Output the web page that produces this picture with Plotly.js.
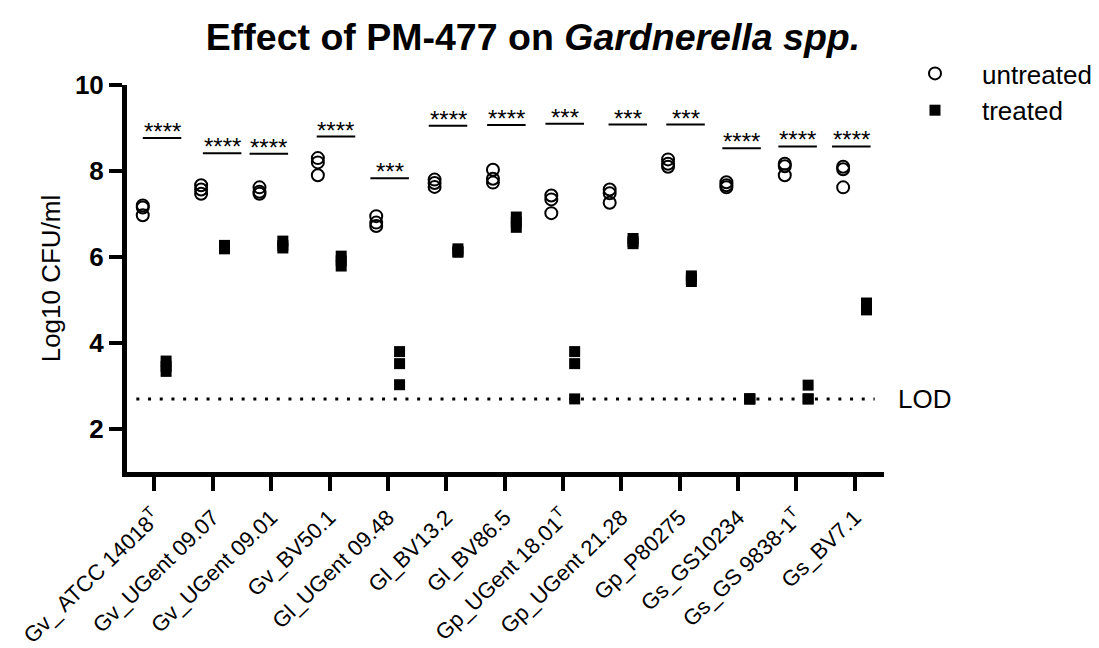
<!DOCTYPE html>
<html>
<head>
<meta charset="utf-8">
<script src="https://cdn.plot.ly/plotly-3.0.1.min.js"></script>
<style>html,body{margin:0;padding:0;background:#fff;}#chart{width:1099px;height:648px;}</style>
</head>
<body>
<div id="chart"></div>
<script>
// ---------- data ----------
const strains = [
  "Gv_ ATCC 14018<sup>T</sup>", "Gv_UGent 09.07", "Gv_UGent 09.01", "Gv_BV50.1",
  "Gl_UGent 09.48", "Gl_BV13.2", "Gl_BV86.5", "Gp_UGent 18.01<sup>T</sup>",
  "Gp_UGent 21.28", "Gp_P80275", "Gs_GS10234", "Gs_GS 9838-1<sup>T</sup>", "Gs_BV7.1"
];
const untreated = [
  [7.20, 7.15, 6.97], [7.67, 7.57, 7.47], [7.62, 7.52, 7.47], [8.30, 8.20, 7.90],
  [6.95, 6.80, 6.72], [7.80, 7.72, 7.63], [8.03, 7.82, 7.73], [7.43, 7.34, 7.02],
  [7.57, 7.48, 7.26], [8.27, 8.17, 8.10], [7.74, 7.67, 7.62], [8.17, 8.11, 7.90],
  [8.10, 8.04, 7.62]
];
const treated = [
  [3.58, 3.46, 3.34], [6.27, 6.21, 6.19], [6.37, 6.27, 6.21], [6.02, 5.91, 5.79],
  [3.80, 3.52, 3.03], [6.19, 6.13, 6.11], [6.93, 6.81, 6.69], [3.80, 3.52, 2.70],
  [6.43, 6.36, 6.31], [5.56, 5.49, 5.43], [2.70, 2.70, 2.70], [3.02, 2.70, 2.70],
  [4.93, 4.86, 4.77]
];
const significance = ["****", "****", "****", "****", "***", "****", "****", "***", "***", "***", "****", "****", "****"];
const sigLevel = [8.77, 8.41, 8.40, 8.80, 7.83, 9.05, 9.07, 9.10, 9.08, 9.08, 8.53, 8.57, 8.57];
const LOD = 2.7;
const yTicks = [2, 4, 6, 8, 10];

// ---------- layout helpers (positions / styles) ----------
const barShift = [0.13, 0.16, -0.04, 0.11, 0.03, 0.03, 0.03, 0.03, 0.11, 0.10, 0.06, 0.02, -0.06];
const barHalf = 0.33;
const dodge = 0.2;
const FONT = "Liberation Sans, Arial, Helvetica, sans-serif";

const ux = [], uy = [], tx = [], ty = [];
strains.forEach((s, i) => {
  untreated[i].forEach(v => { ux.push(i - dodge); uy.push(v); });
  treated[i].forEach(v => { tx.push(i + dodge); ty.push(v); });
});

const traces = [
  {
    type: "scatter", mode: "markers", name: "untreated", x: ux, y: uy,
    marker: { symbol: "circle-open", size: 12, color: "#000", line: { width: 2, color: "#000" } },
    cliponaxis: false
  },
  {
    type: "scatter", mode: "markers", name: "treated", x: tx, y: ty,
    marker: { symbol: "square", size: 11, color: "#000", line: { width: 0 } },
    cliponaxis: false
  }
];

const shapes = [];
const annotations = [];
strains.forEach((s, i) => {
  const c = i + barShift[i];
  shapes.push({
    type: "line", xref: "x", yref: "y",
    x0: c - barHalf, x1: c + barHalf, y0: sigLevel[i], y1: sigLevel[i],
    line: { color: "#000", width: 2 }
  });
  annotations.push({
    xref: "x", yref: "y", x: c, y: sigLevel[i], text: significance[i],
    showarrow: false, yanchor: "bottom", yshift: -9,
    font: { family: FONT, size: 24, color: "#000" }
  });
});
shapes.push({
  type: "line", xref: "x", yref: "y", x0: -0.31, x1: 12.34, y0: LOD, y1: LOD,
  line: { color: "#000", width: 3, dash: "3px,8.7px" }
});
annotations.push({
  xref: "paper", yref: "y", x: 1.0165, y: LOD, xanchor: "left", yanchor: "middle",
  text: "LOD", showarrow: false, font: { family: FONT, size: 26, color: "#000" }
});

const layout = {
  width: 1099, height: 648,
  paper_bgcolor: "#fff", plot_bgcolor: "#fff",
  margin: { l: 127, r: 215, t: 85, b: 176 },
  font: { family: FONT, color: "#000" },
  title: {
    text: "<b>Effect of PM-477 on <i>Gardnerella spp.</i></b>",
    font: { family: FONT, size: 37.5, color: "#000" },
    xref: "container", x: 0.485, xanchor: "center",
    yref: "container", y: 0.943, yanchor: "middle"
  },
  xaxis: {
    range: [-0.47, 12.5],
    tickmode: "array", tickvals: strains.map((s, i) => i), ticktext: strains,
    tickangle: -44, tickfont: { family: FONT, size: 22, color: "#000" },
    ticklabelstandoff: 5,
    ticks: "outside", ticklen: 14, tickwidth: 4, tickcolor: "#000",
    showline: true, linewidth: 5, linecolor: "#000",
    showgrid: false, zeroline: false
  },
  yaxis: {
    range: [1, 10],
    tickmode: "array", tickvals: yTicks, ticktext: yTicks.map(String),
    tickfont: { family: FONT, size: 26, color: "#000", weight: "bold" },
    ticks: "outside", ticklen: 13, tickwidth: 4, tickcolor: "#000",
    showline: true, linewidth: 5, linecolor: "#000",
    showgrid: false, zeroline: false,
    title: { text: "Log10 CFU/ml", font: { family: FONT, size: 26, color: "#000" }, standoff: 8 }
  },
  showlegend: true,
  legend: {
    xref: "container", yref: "container",
    x: 0.808, y: 1 - 50 / 648, xanchor: "left", yanchor: "top",
    itemwidth: 84, font: { family: FONT, size: 26, color: "#000" },
    bgcolor: "rgba(0,0,0,0)", borderwidth: 0, tracegroupgap: 0
  },
  shapes: shapes,
  annotations: annotations
};

Plotly.newPlot("chart", traces, layout, { displayModeBar: false, staticPlot: true });
</script>
</body>
</html>
